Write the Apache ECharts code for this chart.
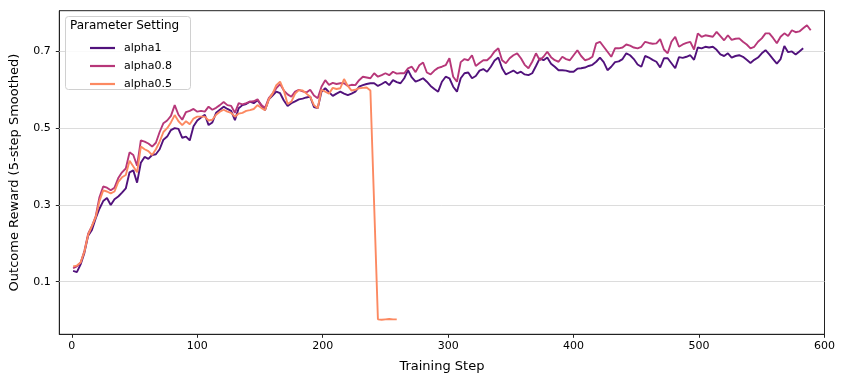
<!DOCTYPE html>
<html><head><meta charset="utf-8">
<script src="https://cdn.jsdelivr.net/npm/echarts@6/dist/echarts.min.js"></script>
<style>html,body{margin:0;padding:0;background:#fff}#c{width:847px;height:388px}</style>
</head><body><div id="c"></div>
<script>
const seriesNames = ['alpha1', 'alpha0.8', 'alpha0.5'];
const seriesColors = ['#51127c', '#b73779', '#fc8961'];
const xTicks = [0, 100, 200, 300, 400, 500, 600];
const yTicks = [0.1, 0.3, 0.5, 0.7];

const steps = [1,4,7,10,13,16,19,22,25,28,31,34,37,40,43,46,49,52,55,58,61,64,67,70,73,76,79,82,85,88,91,94,97,100,103,106,109,112,115,118,121,124,127,130,133,136,139,142,145,148,151,154,157,160,163,166,169,172,175,178,181,184,187,190,193,196,199,202,205,208,211,214,217,220,223,226,229,232,235,238,241,244,247,250,253,256,259,262,265,268,271,274,277,280,283,286,289,292,295,298,301,304,307,310,313,316,319,322,325,328,331,334,337,340,343,346,349,352,355,358,361,364,367,370,373,376,379,382,385,388,391,394,397,400,403,406,409,412,415,418,421,424,427,430,433,436,439,442,445,448,451,454,457,460,463,466,469,472,475,478,481,484,487,490,493,496,499,502,505,508,511,514,517,520,523,526,529,532,535,538,541,544,547,550,553,556,559,562,565,568,571,574,577,580,583,586,589];

const alpha1 = [0.128,0.125,0.145,0.175,0.22,0.235,0.265,0.29,0.31,0.318,0.30,0.315,0.322,0.332,0.343,0.385,0.39,0.358,0.41,0.425,0.42,0.43,0.432,0.445,0.47,0.478,0.495,0.5,0.498,0.475,0.478,0.468,0.505,0.52,0.528,0.535,0.508,0.515,0.54,0.548,0.556,0.55,0.545,0.521,0.552,0.56,0.563,0.569,0.565,0.573,0.56,0.547,0.575,0.585,0.595,0.591,0.572,0.558,0.565,0.57,0.575,0.577,0.58,0.582,0.555,0.552,0.595,0.604,0.594,0.584,0.59,0.595,0.59,0.586,0.59,0.595,0.608,0.612,0.615,0.617,0.617,0.61,0.615,0.621,0.612,0.625,0.62,0.617,0.63,0.651,0.632,0.621,0.625,0.63,0.621,0.61,0.602,0.595,0.621,0.634,0.63,0.608,0.595,0.63,0.643,0.645,0.63,0.636,0.65,0.654,0.647,0.66,0.676,0.684,0.656,0.64,0.645,0.65,0.643,0.647,0.64,0.638,0.643,0.662,0.682,0.677,0.684,0.668,0.66,0.651,0.651,0.65,0.647,0.647,0.655,0.656,0.658,0.662,0.665,0.673,0.684,0.672,0.651,0.66,0.672,0.674,0.68,0.695,0.69,0.68,0.666,0.66,0.688,0.684,0.678,0.673,0.658,0.682,0.682,0.669,0.656,0.685,0.683,0.686,0.69,0.678,0.71,0.708,0.712,0.71,0.712,0.704,0.692,0.688,0.695,0.684,0.688,0.69,0.686,0.678,0.67,0.678,0.684,0.695,0.703,0.692,0.68,0.668,0.68,0.714,0.698,0.70,0.692,0.70,0.708];

const alpha08 = [0.135,0.14,0.15,0.18,0.225,0.245,0.27,0.32,0.348,0.345,0.338,0.345,0.37,0.385,0.395,0.437,0.43,0.402,0.468,0.465,0.46,0.452,0.462,0.49,0.513,0.52,0.532,0.56,0.535,0.522,0.542,0.545,0.55,0.543,0.545,0.543,0.556,0.548,0.553,0.56,0.568,0.56,0.558,0.54,0.565,0.562,0.565,0.569,0.57,0.575,0.56,0.553,0.578,0.59,0.604,0.615,0.598,0.588,0.582,0.595,0.6,0.596,0.593,0.6,0.585,0.578,0.608,0.625,0.613,0.618,0.615,0.617,0.617,0.61,0.613,0.612,0.625,0.634,0.632,0.63,0.643,0.634,0.638,0.643,0.638,0.647,0.642,0.643,0.643,0.656,0.66,0.646,0.664,0.671,0.645,0.64,0.65,0.657,0.66,0.664,0.682,0.634,0.621,0.672,0.68,0.677,0.69,0.662,0.67,0.677,0.677,0.686,0.70,0.708,0.677,0.669,0.682,0.69,0.695,0.682,0.665,0.656,0.673,0.695,0.677,0.686,0.699,0.685,0.677,0.673,0.686,0.68,0.677,0.69,0.703,0.688,0.677,0.68,0.686,0.721,0.725,0.712,0.699,0.686,0.708,0.708,0.71,0.718,0.715,0.71,0.708,0.712,0.725,0.722,0.72,0.721,0.732,0.705,0.695,0.725,0.738,0.712,0.718,0.722,0.725,0.705,0.747,0.738,0.742,0.74,0.738,0.751,0.74,0.729,0.742,0.73,0.733,0.734,0.725,0.718,0.708,0.712,0.725,0.734,0.747,0.747,0.735,0.721,0.738,0.747,0.74,0.755,0.75,0.752,0.76,0.768,0.755];

const alpha05 = [0.14,0.142,0.15,0.178,0.222,0.245,0.268,0.31,0.338,0.335,0.33,0.335,0.36,0.372,0.378,0.415,0.40,0.385,0.452,0.445,0.44,0.43,0.445,0.465,0.49,0.50,0.515,0.534,0.518,0.508,0.518,0.51,0.525,0.53,0.53,0.53,0.52,0.522,0.535,0.543,0.548,0.543,0.54,0.53,0.538,0.54,0.545,0.547,0.55,0.56,0.553,0.547,0.575,0.59,0.612,0.621,0.598,0.563,0.569,0.59,0.599,0.598,0.59,0.582,0.56,0.552,0.60,0.595,0.59,0.605,0.602,0.604,0.628,0.61,0.598,0.60,0.604,0.605,0.606,0.598];
const alpha05TailSteps = [239, 244, 247, 250, 253, 256, 259];
const alpha05Tail = [0.595, 0.002, 0.001, 0.002, 0.003, 0.002, 0.002];

function pairs(xs, ys) { return ys.map((v, i) => [xs[i], v]); }
const seriesData = [
  pairs(steps, alpha1),
  pairs(steps, alpha08),
  pairs(steps, alpha05).concat(pairs(alpha05TailSteps, alpha05Tail))
];

const FONT = 'DejaVu Sans';
const chart = echarts.init(document.getElementById('c'), null, {renderer: 'canvas'});
const series = seriesNames.map((n, i) => ({
  name: n, type: 'line', data: seriesData[i], symbol: 'none', showSymbol: false,
  smooth: false, z: 3 + i,
  lineStyle: {color: seriesColors[i], width: 1.9},
  itemStyle: {color: seriesColors[i]},
  emphasis: {disabled: true}
}));
series[0].markLine = {
  silent: true, symbol: ['none', 'none'], z: 1, animation: false,
  label: {show: false},
  lineStyle: {color: '#dcdcdc', width: 1, type: 'solid'},
  data: yTicks.map(v => ({yAxis: v}))
};

chart.setOption({
  animation: false,
  backgroundColor: '#fff',
  grid: {left: 59.3, right: 22.5, top: 10.7, bottom: 53.7, show: true, borderColor: '#222', borderWidth: 1},
  xAxis: {
    type: 'value', min: -10, max: 600,
    name: 'Training Step', nameLocation: 'middle', nameGap: 26,
    nameTextStyle: {fontSize: 13, color: '#000', fontFamily: FONT},
    axisLine: {show: true, onZero: false, lineStyle: {color: '#222', width: 1}},
    axisTick: {show: true, length: 3.5, customValues: xTicks, lineStyle: {color: '#222', width: 1}},
    axisLabel: {customValues: xTicks, fontSize: 11, color: '#000', margin: 6, fontFamily: FONT},
    splitLine: {show: false}
  },
  yAxis: {
    type: 'value', min: -0.037, max: 0.806,
    name: 'Outcome Reward (5-step Smoothed)', nameLocation: 'middle', nameGap: 38,
    nameTextStyle: {fontSize: 13, color: '#000', fontFamily: FONT},
    axisLine: {show: true, onZero: false, lineStyle: {color: '#222', width: 1}},
    axisTick: {show: true, length: 3.5, customValues: yTicks, lineStyle: {color: '#222', width: 1}},
    axisLabel: {customValues: yTicks, fontSize: 11, color: '#000', margin: 8.5, fontFamily: FONT,
      formatter: v => v.toFixed(1)},
    splitLine: {show: false}
  },
  legend: {
    orient: 'vertical', left: 85, top: 37, itemWidth: 25, itemHeight: 2.2, itemGap: 6,
    icon: 'rect', selectedMode: false, z: 20,
    data: seriesNames.map((n, i) => ({name: n, icon: 'rect', itemStyle: {color: seriesColors[i]}})),
    textStyle: {fontSize: 11, color: '#000', fontFamily: FONT, padding: [0, 0, 0, 4], lineHeight: 12, height: 12}
  },
  graphic: [
    {type: 'rect', z: 15, shape: {x: 65.5, y: 16.5, width: 125, height: 73, r: 3},
     style: {fill: 'rgba(255,255,255,0.85)', stroke: '#d0d0d0', lineWidth: 1}},
    {type: 'text', z: 16, x: 70, y: 26, style: {text: 'Parameter Setting', fontSize: 12, fontFamily: FONT, fill: '#000', verticalAlign: 'middle'}}
  ],
  series: series
});
</script></body></html>
